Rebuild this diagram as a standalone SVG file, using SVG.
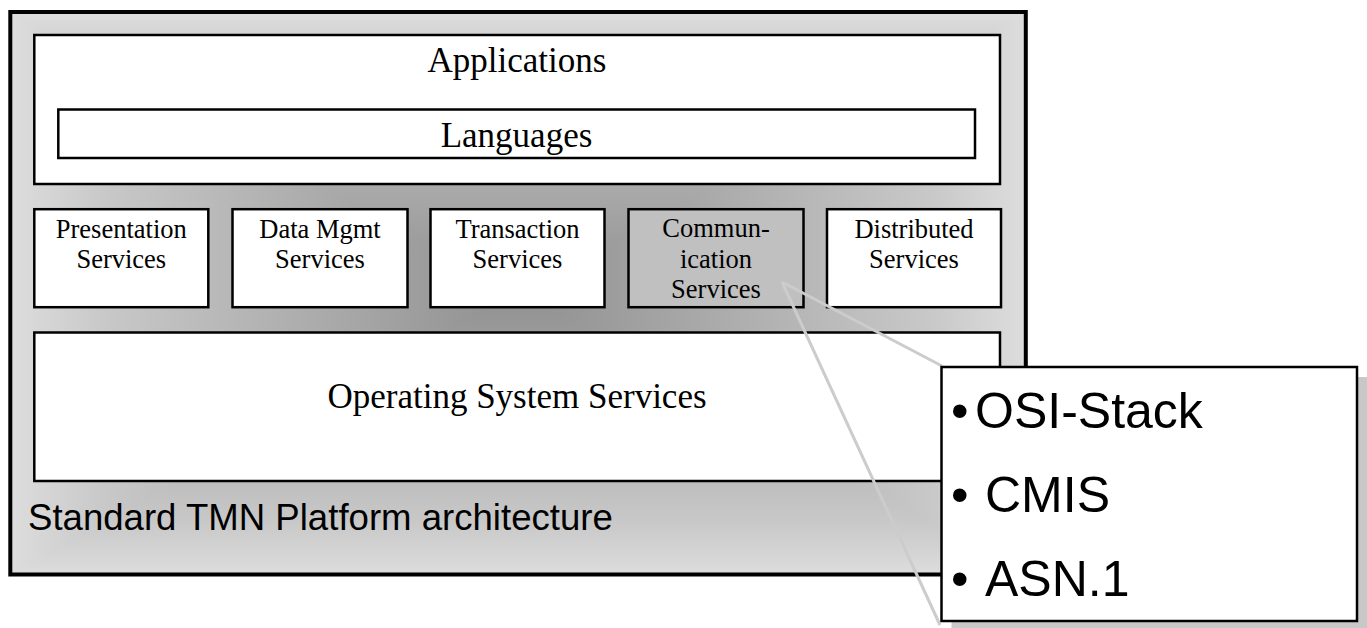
<svg xmlns="http://www.w3.org/2000/svg" width="1367" height="628" viewBox="0 0 1367 628">
  <defs>
    <!-- rectangular "from centre" shading, built from four triangles -->
    <linearGradient id="gTop" gradientUnits="userSpaceOnUse" x1="0" y1="12" x2="0" y2="293">
      <stop offset="0" stop-color="#dddddd"/>
      <stop offset="0.19" stop-color="#c8c8c8"/>
      <stop offset="0.81" stop-color="#9d9d9d"/>
      <stop offset="1" stop-color="#909090"/>
    </linearGradient>
    <linearGradient id="gBottom" gradientUnits="userSpaceOnUse" x1="0" y1="575" x2="0" y2="293">
      <stop offset="0" stop-color="#dddddd"/>
      <stop offset="0.19" stop-color="#c8c8c8"/>
      <stop offset="0.81" stop-color="#9d9d9d"/>
      <stop offset="1" stop-color="#909090"/>
    </linearGradient>
    <linearGradient id="gLeft" gradientUnits="userSpaceOnUse" x1="10" y1="0" x2="518" y2="0">
      <stop offset="0" stop-color="#dddddd"/>
      <stop offset="0.19" stop-color="#c8c8c8"/>
      <stop offset="0.81" stop-color="#9d9d9d"/>
      <stop offset="1" stop-color="#909090"/>
    </linearGradient>
    <linearGradient id="gRight" gradientUnits="userSpaceOnUse" x1="1026" y1="0" x2="518" y2="0">
      <stop offset="0" stop-color="#dddddd"/>
      <stop offset="0.19" stop-color="#c8c8c8"/>
      <stop offset="0.81" stop-color="#9d9d9d"/>
      <stop offset="1" stop-color="#909090"/>
    </linearGradient>
  </defs>
  <style>
    .box { fill: #ffffff; stroke: #000000; stroke-width: 2.5; }
    .serif { font-family: "Liberation Serif", "Times New Roman", serif; fill: #000000; text-anchor: middle; }
    .big { font-size: 35px; }
    .small { font-size: 26.5px; }
    .sans { font-family: "Liberation Sans", Arial, sans-serif; fill: #000000; }
    .item { font-size: 50px; }
    .link { stroke: #cccccc; stroke-width: 3; fill: none; }
  </style>

  <!-- platform frame -->
  <g id="platform">
    <polygon points="10,12 1026,12 518,293" fill="url(#gTop)" stroke="url(#gTop)" stroke-width="1"/>
    <polygon points="10,575 1026,575 518,293" fill="url(#gBottom)" stroke="url(#gBottom)" stroke-width="1"/>
    <polygon points="10,12 10,575 518,293" fill="url(#gLeft)" stroke="url(#gLeft)" stroke-width="1"/>
    <polygon points="1026,12 1026,575 518,293" fill="url(#gRight)" stroke="url(#gRight)" stroke-width="1"/>
    <rect x="10.3" y="12" width="1015.5" height="562.5" fill="none" stroke="#000000" stroke-width="4"/>
    <text class="sans" x="28" y="529.5" font-size="36.6">Standard TMN Platform architecture</text>
  </g>

  <g id="applications">
    <rect class="box" x="34.3" y="35" width="965.7" height="149"/>
    <text class="serif big" x="517" y="71.5">Applications</text>
  </g>

  <g id="languages">
    <rect class="box" x="58.3" y="109.5" width="916.7" height="48.5"/>
    <text class="serif big" x="516.5" y="147">Languages</text>
  </g>

  <g id="presentation">
    <rect class="box" x="34.3" y="209.2" width="174" height="98"/>
    <text class="serif small" x="121.3" y="238">Presentation</text>
    <text class="serif small" x="121.3" y="268">Services</text>
  </g>

  <g id="datamgmt">
    <rect class="box" x="232.5" y="209.2" width="175" height="98"/>
    <text class="serif small" x="320" y="238">Data Mgmt</text>
    <text class="serif small" x="320" y="268">Services</text>
  </g>

  <g id="transaction">
    <rect class="box" x="430.5" y="209.2" width="174" height="98"/>
    <text class="serif small" x="517.5" y="238">Transaction</text>
    <text class="serif small" x="517.5" y="268">Services</text>
  </g>

  <g id="communication">
    <rect class="box" x="628.5" y="209.2" width="175" height="98" style="fill:#c0c0c0"/>
    <text class="serif small" x="716" y="237">Commun-</text>
    <text class="serif small" x="716" y="267.5">ication</text>
    <text class="serif small" x="716" y="298">Services</text>
  </g>

  <g id="distributed">
    <rect class="box" x="827" y="209.2" width="174" height="98"/>
    <text class="serif small" x="914" y="238">Distributed</text>
    <text class="serif small" x="914" y="268">Services</text>
  </g>

  <g id="os">
    <rect class="box" x="34.3" y="332.5" width="965.7" height="148.5"/>
    <text class="serif big" x="517" y="408">Operating System Services</text>
  </g>

  <!-- callout pointer from Communication Services -->
  <g id="connectors">
    <line class="link" x1="782" y1="282" x2="942" y2="366"/>
    <line class="link" x1="782" y1="282" x2="940" y2="625"/>
  </g>

  <g id="callout">
    <rect x="951.5" y="377" width="416" height="254" fill="#c8c8c8"/>
    <rect x="941.5" y="367" width="415.5" height="254" fill="#ffffff" stroke="#000000" stroke-width="2.5"/>
    <text class="sans item" x="951" y="428">•</text>
    <text class="sans item" x="975" y="428">OSI-Stack</text>
    <text class="sans item" x="951" y="512">•</text>
    <text class="sans item" x="985" y="512">CMIS</text>
    <text class="sans item" x="951" y="596">•</text>
    <text class="sans item" x="985" y="596">ASN.1</text>
  </g>
</svg>
